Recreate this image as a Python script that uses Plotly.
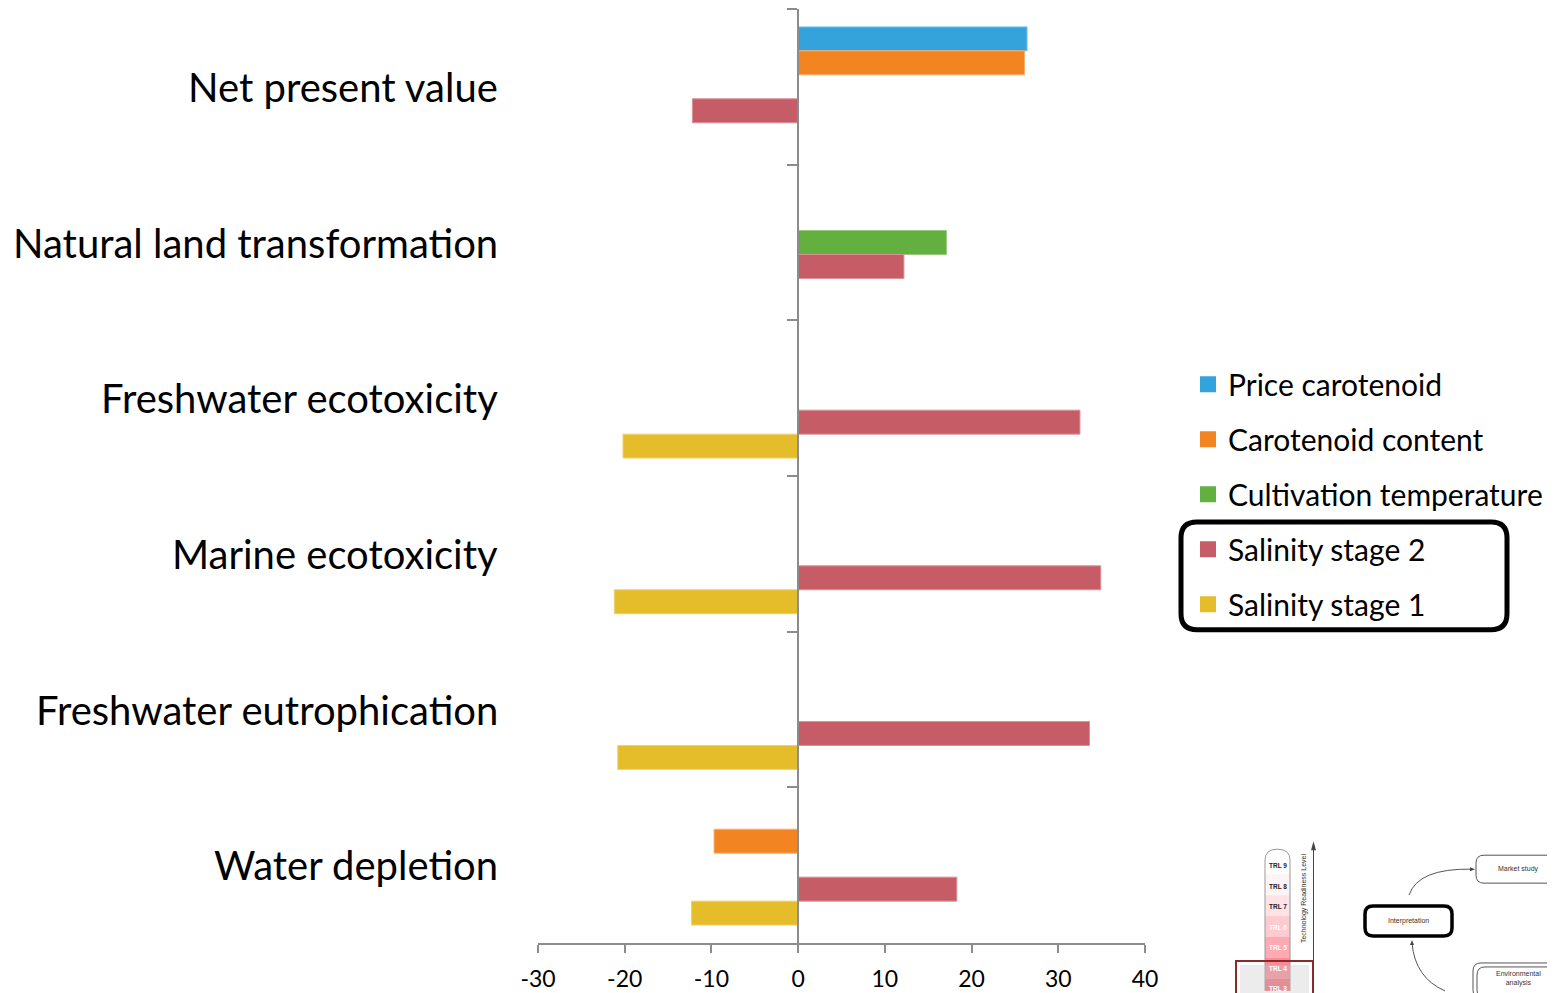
import plotly.graph_objects as go

categories = [
    'Net present value',
    'Natural land transformation',
    'Freshwater ecotoxicity',
    'Marine ecotoxicity',
    'Freshwater eutrophication',
    'Water depletion',
]

price_carotenoid = [26.4, None, None, None, None, None]
carotenoid_content = [26.1, None, None, None, None, -9.7]
cultivation_temperature = [None, 17.1, None, None, None, None]
salinity_stage_2 = [-12.2, 12.2, 32.5, 34.9, 33.6, 18.3]
salinity_stage_1 = [None, None, -20.2, -21.2, -20.8, -12.3]

series_names = ['Price carotenoid', 'Carotenoid content', 'Cultivation temperature',
                'Salinity stage 2', 'Salinity stage 1']
series_values = [price_carotenoid, carotenoid_content, cultivation_temperature,
                 salinity_stage_2, salinity_stage_1]
colors = ['#35A3DB', '#F38422', '#63AF3F', '#C65D66', '#E5BC2A']
edge_colors = ['#7CC3E8', '#F8B070', '#97C97E', '#DA9198', '#EFD276']

x_ticks = [-30, -20, -10, 0, 10, 20, 30, 40]
x_ticktext = ['-30', '-20', '-10', '0', '10', '20', '30', '40']

FONT = 'Lato, sans-serif'
SMALL = 'Liberation Sans, sans-serif'

# plot area in page pixels (page body has an 8px margin)
L, R, T, B = 538, 1145, 9, 945
W, H = 1547, 985


def px(x):
    return (x - L) / (R - L)


def py(y):
    return (B - y) / (B - T)


fig = go.Figure()
for name, vals, c, ec in zip(series_names, series_values, colors, edge_colors):
    fig.add_trace(go.Bar(
        y=categories,
        x=vals,
        orientation='h',
        name=name,
        legendgroup=name,
        showlegend=False,
        marker=dict(color=c, line=dict(color=ec, width=1)),
    ))
# legend entries with bigger square swatches
for name, c in zip(series_names, colors):
    fig.add_trace(go.Scatter(
        x=[None], y=[None],
        mode='markers',
        name=name,
        legendgroup=name,
        marker=dict(symbol='square', size=17, color=c),
    ))

# category labels far left of the axis
annotations = []
for cat in categories:
    annotations.append(dict(
        xref='paper', yref='y', x=px(500), y=cat,
        xanchor='right', yanchor='middle', showarrow=False,
        text=cat, font=dict(family=FONT, size=40, color='black'),
    ))


def rounded_box(xa, xb, ya, yb, rad, color, width):
    ax0, ax1, ay0, ay1 = px(xa), px(xb), py(ya), py(yb)
    rrx, rry = rad / (R - L), rad / (B - T)
    return dict(
        type='path', xref='paper', yref='paper',
        path=(f'M {ax0 + rrx},{ay0} L {ax1 - rrx},{ay0} Q {ax1},{ay0} {ax1},{ay0 - rry} '
              f'L {ax1},{ay1 + rry} Q {ax1},{ay1} {ax1 - rrx},{ay1} L {ax0 + rrx},{ay1} '
              f'Q {ax0},{ay1} {ax0},{ay1 + rry} L {ax0},{ay0 - rry} Q {ax0},{ay0} {ax0 + rrx},{ay0} Z'),
        line=dict(color=color, width=width),
    )


shapes = []
# rounded box around salinity legend items
shapes.append(rounded_box(1181, 1507, 523, 631, 16, 'black', 5))

# inset diagram (bottom right)
trl_colors = ['#FFFFFF', '#FFF4F5', '#FFE3E6', '#FFCBD0', '#FDAAB2', '#F98C96', '#F2707C']
trl_tops = [851, 876, 897, 918, 939, 960, 981]
for i, (top, col) in enumerate(zip(trl_tops, trl_colors)):
    bot = trl_tops[i + 1] if i + 1 < len(trl_tops) else 993
    shapes.append(dict(type='rect', xref='paper', yref='paper',
                       x0=px(1265), x1=px(1290), y0=py(bot), y1=py(top),
                       fillcolor=col, line=dict(width=0)))
shapes.append(dict(type='path', xref='paper', yref='paper',
                   path=(f'M {px(1265)},{py(993)} L {px(1265)},{py(862)} '
                         f'Q {px(1265)},{py(851)} {px(1277.5)},{py(851)} '
                         f'Q {px(1290)},{py(851)} {px(1290)},{py(862)} L {px(1290)},{py(993)}'),
                   line=dict(color='#999999', width=1)))
shapes.append(dict(type='rect', xref='paper', yref='paper',
                   x0=px(1236), x1=px(1313), y0=py(996), y1=py(963),
                   line=dict(color='#8B2A2A', width=2)))
shapes.append(dict(type='rect', xref='paper', yref='paper',
                   x0=px(1240), x1=px(1309), y0=py(996), y1=py(967),
                   fillcolor='rgba(200,200,200,0.35)', line=dict(width=0)))
shapes.append(dict(type='line', xref='paper', yref='paper',
                   x0=px(1313.5), x1=px(1313.5), y0=py(993), y1=py(848),
                   line=dict(color='#444444', width=1)))
shapes.append(dict(type='path', xref='paper', yref='paper',
                   path=f'M {px(1311)},{py(852)} L {px(1313.5)},{py(843)} L {px(1316)},{py(852)} Z',
                   fillcolor='#444444', line=dict(width=0)))
shapes.append(rounded_box(1365, 1452, 908, 938, 8, 'black', 3.5))
shapes.append(rounded_box(1476, 1562, 857, 885, 8, '#555555', 1))
shapes.append(rounded_box(1473, 1562, 965, 1000, 8, '#555555', 1))
shapes.append(rounded_box(1477, 1562, 969, 1000, 8, '#555555', 1))
shapes.append(dict(type='path', xref='paper', yref='paper',
                   path=f'M {px(1409)},{py(897)} Q {px(1418)},{py(870)} {px(1472)},{py(871)}',
                   line=dict(color='#555555', width=1)))
shapes.append(dict(type='path', xref='paper', yref='paper',
                   path=f'M {px(1412)},{py(945)} Q {px(1415)},{py(980)} {px(1445)},{py(993)}',
                   line=dict(color='#555555', width=1)))
shapes.append(dict(type='path', xref='paper', yref='paper',
                   path=f'M {px(1470)},{py(869)} L {px(1475)},{py(871)} L {px(1470)},{py(873)} Z',
                   fillcolor='#444444', line=dict(width=0)))
shapes.append(dict(type='path', xref='paper', yref='paper',
                   path=f'M {px(1410)},{py(947)} L {px(1412)},{py(942)} L {px(1414)},{py(947)} Z',
                   fillcolor='#444444', line=dict(width=0)))

trl_labels = ['TRL 9', 'TRL 8', 'TRL 7', 'TRL 6', 'TRL 5', 'TRL 4', 'TRL 3']
trl_y = [867, 888, 908, 929, 950, 971, 991]
for lab, yy in zip(trl_labels, trl_y):
    col = '#222222' if lab in ('TRL 9', 'TRL 8', 'TRL 7') else '#FFFFFF'
    annotations.append(dict(xref='paper', yref='paper', x=px(1277.5), y=py(yy),
                            xanchor='center', yanchor='middle',
                            text=f'<b>{lab}</b>', showarrow=False,
                            font=dict(family=SMALL, size=6.5, color=col)))
inset_texts = [
    ('Technology Readiness Level', 1304, 900, -90),
    ('Interpretation', 1408, 923, 0),
    ('Market study', 1518, 871, 0),
    ('Environmental<br>analysis', 1518, 981, 0),
]
for txt, xx, yy, ang in inset_texts:
    annotations.append(dict(xref='paper', yref='paper', x=px(xx), y=py(yy),
                            xanchor='center', yanchor='middle',
                            text=txt, textangle=ang, showarrow=False,
                            font=dict(family=SMALL, size=7, color='#333333')))

fig.update_layout(
    width=W,
    height=H,
    margin=dict(l=L - 8, r=W - (R - 8), t=T - 8, b=H - (B - 8) - 3),
    paper_bgcolor='white',
    plot_bgcolor='white',
    font=dict(family=FONT, color='black'),
    barmode='group',
    bargap=0.23,
    bargroupgap=0,
    xaxis=dict(
        range=[-30, 40],
        tickvals=x_ticks,
        ticktext=x_ticktext,
        showgrid=False,
        zeroline=False,
        showline=True,
        linecolor='#8C8C8C',
        linewidth=2,
        ticks='outside',
        ticklen=8,
        tickwidth=2,
        tickcolor='#8C8C8C',
        ticklabelstandoff=6,
        tickfont=dict(family=FONT, size=23, color='black'),
        fixedrange=True,
    ),
    yaxis=dict(
        categoryorder='array',
        categoryarray=categories,
        autorange='reversed',
        anchor='free',
        position=30 / 70,
        showline=True,
        linecolor='#8C8C8C',
        linewidth=2,
        ticks='outside',
        tickson='boundaries',
        ticklen=10,
        tickwidth=2,
        tickcolor='#8C8C8C',
        showticklabels=False,
        showgrid=False,
        zeroline=False,
        fixedrange=True,
    ),
    showlegend=True,
    legend=dict(
        x=px(1188), y=py(359), xanchor='left', yanchor='top',
        font=dict(family=FONT, size=30, color='black'),
        tracegroupgap=13,
        traceorder='grouped',
        itemsizing='trace',
        bgcolor='rgba(0,0,0,0)',
    ),
    annotations=annotations,
    shapes=shapes,
)

fig.write_html('out.html')
